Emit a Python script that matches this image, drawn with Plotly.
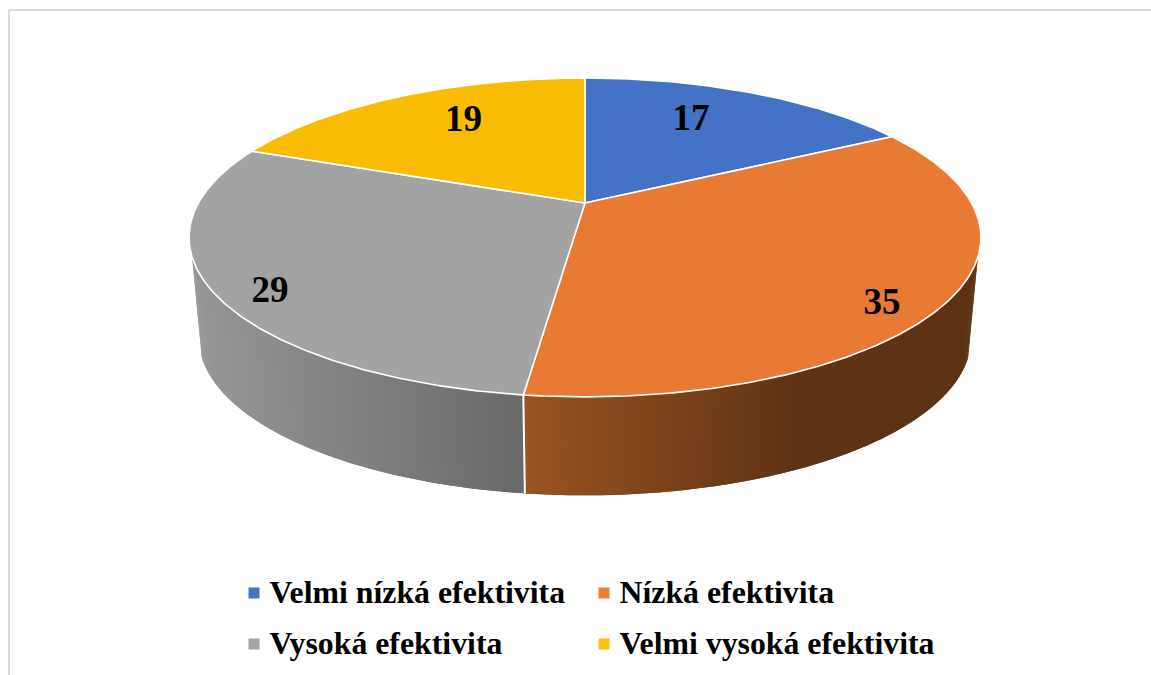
import math
import plotly.graph_objects as go

# chart data
CATEGORIES = ["Velmi nízká efektivita", "Nízká efektivita", "Vysoká efektivita", "Velmi vysoká efektivita"]
VALUES = [17, 35, 29, 19]
TOP_COLORS = ["#4472C4", "#E97A33", "#A3A3A3", "#F9BC00"]
LEGEND_COLORS = ["#4472C4", "#ED7D31", "#A5A5A5", "#FFC000"]

# side shading, left and right end colours per slice (pixel x range)
SIDE_SHADES = {
    1: ((525, (154, 83, 33)), (800, (94, 50, 20))),
    2: ((195, (152, 152, 152)), (525, (105, 105, 105))),
}

# perspective of the pie: top disc and bottom disc
K = -0.216
CX = 585
TOP = dict(a=386.6, b=152, cy=203)
BOTTOM = dict(a=377, b=150, cy=304)
SIDE_START = 109.3
SIDE_END = 250.7

# label placement in disc coordinates, style only
LABEL_RADIUS = [0.708, 0.883, 0.886, 0.722]
LABEL_SHIFT = [-4.5, 6.1, -4.5, 4.6]
LABEL_DY = 3
LEGEND_DY = 2

SERIF = "Liberation Serif"


def project(angle, disc, r=1.0):
    # angle in degrees, clockwise from 12 o'clock
    u = r * math.sin(math.radians(angle))
    v = r * math.cos(math.radians(angle))
    w = 1 - K * v
    return CX + disc["a"] * u / w, disc["cy"] - disc["b"] * v / w


def shade(slice_idx, x):
    (x0, c0), (x1, c1) = SIDE_SHADES[slice_idx]
    t = max(0, min(1, (x - x0) / (x1 - x0)))
    rgb = [round(a + (b - a) * t) for a, b in zip(c0, c1)]
    return f"rgb({rgb[0]},{rgb[1]},{rgb[2]})"


total = sum(VALUES)
starts, ends = [], []
running = 0
for v in VALUES:
    starts.append(running / total * 360)
    running += v
    ends.append(running / total * 360)

fig = go.Figure()

# side wall as strips, each one runs under the next so no seams show
for i in (1, 2):
    a0 = max(starts[i], SIDE_START)
    a1 = min(ends[i], SIDE_END)
    n = int((a1 - a0) / 0.5) + 1
    step = (a1 - a0) / n
    for s in range(n):
        a_far = min(a0 + (s + 2) * step, a1)
        p0 = project(a0 + s * step, TOP)
        p1 = project(a_far, TOP)
        q1 = project(a_far, BOTTOM)
        q0 = project(a0 + s * step, BOTTOM)
        col = shade(i, (q0[0] + project(a0 + (s + 1) * step, BOTTOM)[0]) / 2)
        fig.add_trace(go.Scatter(
            x=[p0[0], p1[0], q1[0], q0[0], p0[0]],
            y=[p0[1], p1[1], q1[1], q0[1], p0[1]],
            mode="lines", fill="toself", fillcolor=col,
            line=dict(color=col, width=0),
            hoverinfo="skip", showlegend=False,
        ))

# white seam on the side wall between the two visible slices
seam_top = project(ends[1], TOP)
seam_bottom = project(ends[1], BOTTOM)
fig.add_trace(go.Scatter(
    x=[seam_top[0], seam_bottom[0]], y=[seam_top[1], seam_bottom[1]],
    mode="lines", line=dict(color="white", width=2),
    hoverinfo="skip", showlegend=False,
))

# top of the pie
for i, name in enumerate(CATEGORIES):
    n = max(2, int(ends[i] - starts[i]) * 2)
    pts = [project(starts[i] + (ends[i] - starts[i]) * s / n, TOP) for s in range(n + 1)]
    xs = [CX] + [p[0] for p in pts] + [CX]
    ys = [TOP["cy"]] + [p[1] for p in pts] + [TOP["cy"]]
    fig.add_trace(go.Scatter(
        x=xs, y=ys, mode="lines", fill="toself", fillcolor=TOP_COLORS[i],
        line=dict(color="white", width=1.6),
        name=name, hovertemplate=f"{name}: {VALUES[i]}<extra></extra>", showlegend=False,
    ))

# value labels
label_pts = [
    project((starts[i] + ends[i]) / 2 + LABEL_SHIFT[i], TOP, LABEL_RADIUS[i])
    for i in range(len(VALUES))
]
fig.add_trace(go.Scatter(
    x=[p[0] for p in label_pts], y=[p[1] + LABEL_DY for p in label_pts],
    mode="text", text=[str(v) for v in VALUES], textposition="middle center",
    textfont=dict(family=SERIF, size=37, color="black"),
    texttemplate="<b>%{text}</b>",
    hoverinfo="skip", showlegend=False,
))

# legend, two rows of two entries
legend_x = [254, 604, 254, 604]
legend_y = [593, 593, 644, 644]
fig.add_trace(go.Scatter(
    x=legend_x, y=legend_y, mode="markers",
    marker=dict(symbol="square", size=11, color=LEGEND_COLORS, line=dict(width=0)),
    hoverinfo="skip", showlegend=False,
))
fig.add_trace(go.Scatter(
    x=[x + 15.5 for x in legend_x], y=[y + LEGEND_DY for y in legend_y], mode="text",
    text=CATEGORIES, textposition="middle right",
    texttemplate="<b>%{text}</b>",
    textfont=dict(family=SERIF, size=31.8, color="black"),
    hoverinfo="skip", showlegend=False,
))

fig.update_layout(
    width=1151,
    height=675,
    margin=dict(l=0, r=0, t=0, b=0),
    paper_bgcolor="white",
    plot_bgcolor="white",
    xaxis=dict(range=[0, 1151], visible=False, fixedrange=True),
    yaxis=dict(range=[675, 0], visible=False, fixedrange=True),
    shapes=[
        dict(type="line", x0=9, x1=9, y0=10, y1=675, line=dict(color="#D9D9D9", width=2)),
        dict(type="line", x0=9, x1=1151, y0=10, y1=10, line=dict(color="#D9D9D9", width=2)),
    ],
)

fig.write_html("out.html", config=dict(displayModeBar=False),
               post_script="document.body.style.margin='0';document.documentElement.style.overflow='hidden';")
